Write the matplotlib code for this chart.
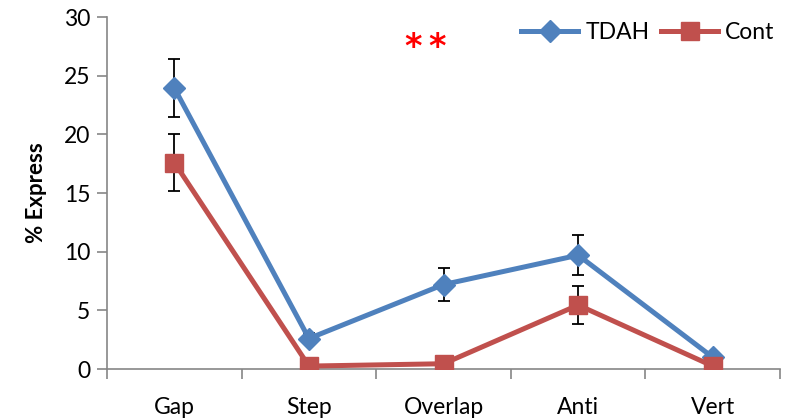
import matplotlib
matplotlib.use("Agg")
import matplotlib.pyplot as plt
import numpy as np

categories = ["Gap", "Step", "Overlap", "Anti", "Vert"]
tdah = [23.95, 2.6, 7.2, 9.7, 1.0]
tdah_err = [2.45, 0.5, 1.4, 1.7, 0.0]
cont = [17.6, 0.25, 0.45, 5.45, 0.25]
cont_err = [2.4, 0.0, 0.0, 1.6, 0.0]
yticks = [0, 5, 10, 15, 20, 25, 30]

plt.rcParams['font.family'] = ['Lato', 'DejaVu Sans']

fig = plt.figure(figsize=(7.96, 4.2), dpi=100)
ax = fig.add_axes([0.1344, 0.1214, 0.98 - 0.1344, 0.9595 - 0.1214])

x = np.arange(len(categories))
blue = "#4F81BD"
red = "#C0504D"

ax.errorbar(x, tdah, yerr=tdah_err, fmt="none", ecolor="black", elinewidth=1.3, capsize=4.5, capthick=1.3, zorder=2)
ax.errorbar(x, cont, yerr=cont_err, fmt="none", ecolor="black", elinewidth=1.3, capsize=4.5, capthick=1.3, zorder=2)
ax.plot(x, tdah, color=blue, lw=3.6, marker="D", ms=11, label="TDAH", zorder=3)
ax.plot(x, cont, color=red, lw=3.6, marker="s", ms=13, label="Cont", zorder=4)

ax.set_xlim(-0.5, len(categories) - 0.5)
ax.set_ylim(0, 30)
ax.set_yticks(yticks)
ax.set_xticks(x)
ax.set_xticklabels(categories)
ax.set_xticks(np.arange(-0.5, len(categories), 1.0), minor=True)
ax.tick_params(axis="x", which="major", length=0, pad=20, labelsize=16.5)
ax.tick_params(axis="x", which="minor", length=7, width=1.2, color="#868686", direction="out")
ax.tick_params(axis="y", length=7, width=1.2, color="#868686", labelsize=16.5, pad=5)

for s in ["top", "right"]:
    ax.spines[s].set_visible(False)
for s in ["left", "bottom"]:
    ax.spines[s].set_color("#868686")
    ax.spines[s].set_linewidth(1.2)

ax.set_ylabel("% Express", fontsize=16, fontweight="bold", labelpad=12)

for xa in (1.775, 1.955):
    ax.text(xa, 27.4, "*", color="#FF0000", fontsize=24, fontweight="bold", ha="center", va="center",
            family="DejaVu Sans")

leg = ax.legend(loc="upper right", bbox_to_anchor=(1.012, 1.025), ncol=2, frameon=False, fontsize=16.5,
                handlelength=2.5, handletextpad=0.3, columnspacing=0.5, borderaxespad=0.2)

fig.savefig("out.png", dpi=100)
